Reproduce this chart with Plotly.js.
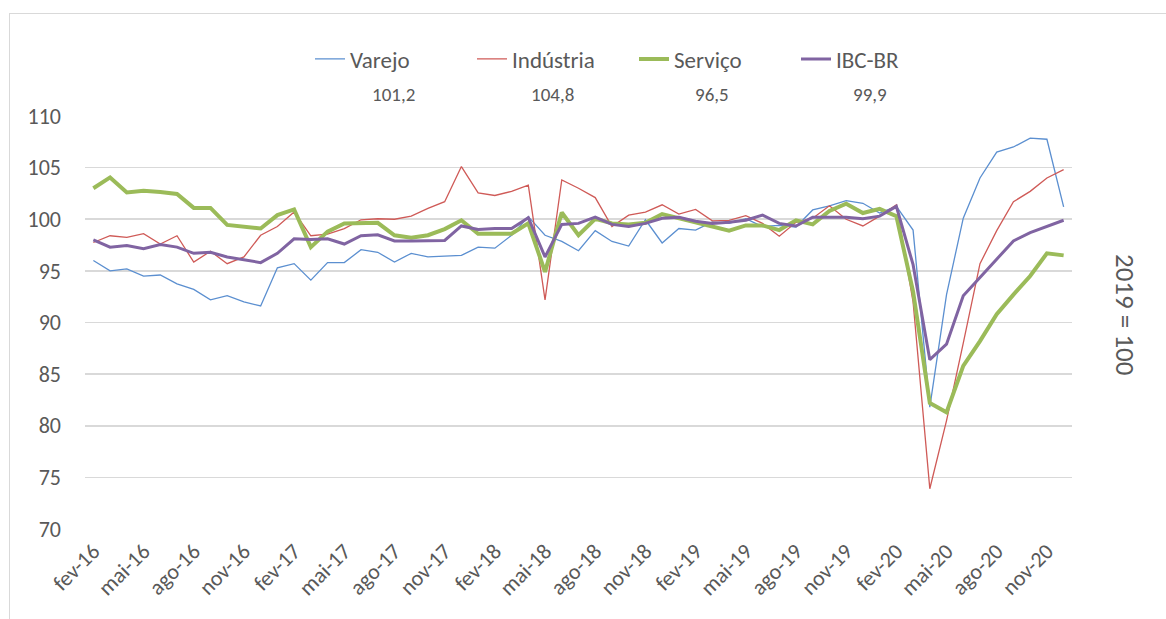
<!DOCTYPE html>
<html>
<head>
<meta charset="utf-8">
<script src="https://cdn.plot.ly/plotly-3.0.1.min.js"></script>
<style>
  html, body { margin: 0; padding: 0; background: #ffffff; }
  #wrap { position: relative; width: 1166px; height: 619px; overflow: hidden; }
  #chart { position: absolute; left: 0; top: 0; width: 1166px; height: 619px; }
  #frame { position: absolute; left: 9px; top: 13px; width: 1170px; height: 620px;
           border-left: 1px solid #d9d9d9; border-top: 1px solid #d9d9d9; pointer-events: none; }
</style>
</head>
<body>
<div id="wrap">
  <div id="chart"></div>
  <div id="frame"></div>
</div>
<script>
// Categories: monthly, fev-16 .. dez-20
const monthNames = ["jan","fev","mar","abr","mai","jun","jul","ago","set","out","nov","dez"];
const startYear = 16, startMonth = 1, nMonths = 59;
const categories = [];
for (let k = 0; k < nMonths; k++) {
  const m = (startMonth + k) % 12;
  const y = startYear + Math.floor((startMonth + k) / 12);
  categories.push(monthNames[m] + "-" + y);
}

const varejo = [96.0, 95.0, 95.2, 94.5, 94.6, 93.75, 93.2, 92.2, 92.6, 92.0, 91.6, 95.3,
  95.7, 94.1, 95.8, 95.8, 97.05, 96.8, 95.85, 96.7, 96.35, 96.45, 96.5, 97.3,
  97.2, 98.45, 100.25, 98.45, 97.85, 96.95, 98.9, 97.85, 97.4, 99.95, 97.7, 99.1,
  98.95, 99.75, 99.6, 100.05, 99.3, 99.4, 99.25, 100.9, 101.3, 101.8, 101.55, 100.6,
  101.25, 98.95, 81.8, 92.7, 100.1, 104.0, 106.5, 107.0, 107.85, 107.75, 101.2];

const industria = [97.75, 98.4, 98.25, 98.6, 97.6, 98.4, 95.85, 96.9, 95.7, 96.35, 98.45, 99.3,
  100.7, 98.4, 98.55, 99.1, 99.95, 100.05, 100.0, 100.3, 101.05, 101.7, 105.1, 102.55,
  102.3, 102.7, 103.3, 92.2, 103.8, 103.0, 102.1, 99.3, 100.4, 100.7, 101.4, 100.5,
  100.95, 99.85, 99.9, 100.35, 99.6, 98.35, 99.7, 100.1, 101.3, 100.0, 99.35, 100.3,
  101.4, 92.0, 73.9, 80.5, 88.0, 95.7, 98.9, 101.7, 102.7, 104.0, 104.8];

const servico = [103.0, 104.05, 102.6, 102.75, 102.65, 102.45, 101.1, 101.1, 99.45, 99.25, 99.1, 100.4,
  100.95, 97.3, 98.8, 99.6, 99.6, 99.65, 98.45, 98.2, 98.45, 99.05, 99.9, 98.6,
  98.6, 98.6, 99.6, 94.9, 100.65, 98.45, 100.05, 99.6, 99.5, 99.65, 100.5, 100.1,
  99.65, 99.3, 98.9, 99.4, 99.4, 98.95, 99.9, 99.5, 100.8, 101.5, 100.6, 101.0,
  100.3, 93.0, 82.2, 81.3, 85.8, 88.2, 90.8, 92.7, 94.5, 96.7, 96.5];

const ibcbr = [98.0, 97.3, 97.45, 97.15, 97.55, 97.3, 96.7, 96.8, 96.35, 96.1, 95.8, 96.7,
  98.1, 98.05, 98.1, 97.6, 98.4, 98.5, 97.9, 97.9, 97.9, 97.95, 99.35, 99.0,
  99.1, 99.1, 100.15, 96.35, 99.5, 99.6, 100.2, 99.5, 99.3, 99.6, 100.1, 100.2,
  99.8, 99.6, 99.7, 99.9, 100.4, 99.6, 99.35, 100.2, 100.2, 100.2, 100.05, 100.3,
  101.25, 95.6, 86.4, 87.9, 92.6, 94.4, 96.1, 97.9, 98.7, 99.3, 99.9];

const seriesNames = ["Varejo", "Indústria", "Serviço", "IBC-BR"];
const seriesData = [varejo, industria, servico, ibcbr];
const seriesColors = ["#5B8FD0", "#CF5A57", "#9BBB59", "#8064A2"];
const seriesWidths = [1.3, 1.3, 4, 3];

const tickLabels = categories.filter((c, i) => i % 3 === 0);

const textColor = "#595959";
const fontFam = "Carlito, Calibri, Roboto, 'Liberation Sans', sans-serif";

const traces = seriesNames.map((name, k) => ({
  type: "scatter",
  mode: "lines",
  name: name,
  x: categories,
  y: seriesData[k],
  line: { color: seriesColors[k], width: seriesWidths[k] },
  hoverinfo: "x+y+name"
}));

// last values row under the legend
const valueX = [393, 552, 712, 870];
const fmt = v => v.toFixed(1).replace(".", ",");
const L = 85, R = 1072, T = 116, B = 529;
const px2x = p => (p - L) / (R - L);
const px2y = p => (B - p) / (B - T);

const annotations = seriesData.map((d, k) => ({
  xref: "paper", yref: "paper",
  x: px2x(valueX[k]), y: px2y(95),
  xanchor: "center", yanchor: "middle",
  text: fmt(d[d.length - 1]),
  showarrow: false,
  font: { family: fontFam, size: 19, color: textColor }
}));
annotations.push({
  xref: "paper", yref: "paper",
  x: px2x(1126), y: px2y(314),
  xanchor: "center", yanchor: "middle",
  text: "2019 = 100",
  textangle: 90,
  showarrow: false,
  font: { family: fontFam, size: 27, color: textColor }
});

const layout = {
  width: 1166, height: 619,
  margin: { l: L, r: 1166 - R, t: T, b: 619 - B, pad: 0 },
  paper_bgcolor: "#ffffff",
  plot_bgcolor: "#ffffff",
  font: { family: fontFam, color: textColor },
  showlegend: true,
  legend: {
    orientation: "h",
    x: px2x(310), y: px2y(59),
    xanchor: "left", yanchor: "middle",
    font: { family: fontFam, size: 23, color: textColor },
    entrywidth: 117,
    entrywidthmode: "pixels",
    bgcolor: "rgba(0,0,0,0)"
  },
  xaxis: {
    type: "category",
    categoryorder: "array",
    categoryarray: categories,
    tickmode: "array",
    tickvals: tickLabels,
    ticktext: tickLabels,
    tickangle: -45,
    ticklabelstandoff: 4,
    tickfont: { family: fontFam, size: 22, color: textColor },
    showgrid: false,
    zeroline: false,
    showline: false,
    ticks: "",
    range: [-0.5, nMonths - 0.5],
    fixedrange: true
  },
  yaxis: {
    range: [70, 110],
    dtick: 5,
    tick0: 70,
    showgrid: true,
    gridcolor: "#d9d9d9",
    gridwidth: 1.6,
    zeroline: false,
    showline: false,
    ticks: "",
    ticklabelstandoff: 23,
    tickfont: { family: fontFam, size: 22, color: textColor },
    fixedrange: true
  },
  annotations: annotations
};

Plotly.newPlot("chart", traces, layout, { displayModeBar: false, staticPlot: true });
</script>
</body>
</html>
